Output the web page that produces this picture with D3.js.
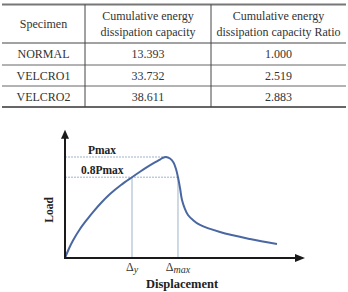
<!DOCTYPE html>
<html>
<head>
<meta charset="utf-8">
<script src="https://cdn.jsdelivr.net/npm/d3@7"></script>
<style>
	body { margin: 0; background: #fff; }
	svg { display: block; }
	text { font-family: "Liberation Serif", "Times New Roman", serif; }
</style>
</head>
<body>
<div id="chart"></div>
<script>
// table data
var headers = [["Specimen"], ["Cumulative energy", "dissipation capacity"], ["Cumulative energy", "dissipation capacity Ratio"]];
var specimens = ["NORMAL", "VELCRO1", "VELCRO2"];
var capacity = ["13.393", "33.732", "38.611"];
var ratio = ["1.000", "2.519", "2.883"];

// load-displacement curve (displacement 0-100, load as fraction of Pmax)
var disp = [0, 1.67, 3.33, 6.25, 9.17, 11.67, 15, 18.75, 23.33, 27.92, 31.25, 34.17, 37.08, 39.58, 40.83, 42.08,
	43.75, 45.21, 46.25, 47.08, 47.92, 48.75, 50, 51.25, 53.33, 56.25, 64.58, 77.08, 88.33];
var load = [0, 0.094, 0.173, 0.287, 0.381, 0.455, 0.545, 0.634, 0.723, 0.8, 0.854, 0.899, 0.941, 0.975, 0.993, 1.0,
	0.985, 0.946, 0.881, 0.8, 0.693, 0.574, 0.485, 0.426, 0.376, 0.327, 0.257, 0.188, 0.139];
var pmax = 1.0, p08 = 0.8;
var dispPeak = 42.08, dispY = 27.92, dispMax = 47.08;

var width = 348, height = 292;
var svg = d3.select("#chart").append("svg")
	.attr("width", width)
	.attr("height", height);

// ---- table ----
var colX = [2, 85, 211, 346];
var rowY = [4.5, 43, 65, 86, 107];
var tbl = svg.append("g").attr("font-size", 12).attr("fill", "#333");

tbl.append("line").attr("x1", colX[0]).attr("x2", colX[3]).attr("y1", rowY[0]).attr("y2", rowY[0])
	.attr("stroke", "#777").attr("stroke-width", 2);
tbl.append("line").attr("x1", colX[0]).attr("x2", colX[3]).attr("y1", rowY[1]).attr("y2", rowY[1])
	.attr("stroke", "#444").attr("stroke-width", 1);
[2, 3].forEach(function (i) {
	tbl.append("line").attr("x1", colX[0]).attr("x2", colX[3]).attr("y1", rowY[i]).attr("y2", rowY[i])
		.attr("stroke", "#666").attr("stroke-width", 1);
});
tbl.append("line").attr("x1", colX[0]).attr("x2", colX[3]).attr("y1", rowY[4]).attr("y2", rowY[4])
	.attr("stroke", "#333").attr("stroke-width", 1.6);
[1, 2].forEach(function (i) {
	tbl.append("line").attr("x1", colX[i]).attr("x2", colX[i]).attr("y1", rowY[0]).attr("y2", rowY[4])
		.attr("stroke", "#444").attr("stroke-width", 1);
});

headers.forEach(function (lines, c) {
	var cx = (colX[c] + colX[c + 1]) / 2;
	var cy = (rowY[0] + rowY[1]) / 2;
	lines.forEach(function (t, k) {
		tbl.append("text")
			.attr("x", cx)
			.attr("y", cy + (k - (lines.length - 1) / 2) * 16.5)
			.attr("dy", "0.35em")
			.attr("text-anchor", "middle")
			.text(t);
	});
});
specimens.forEach(function (s, r) {
	var cy = (rowY[r + 1] + rowY[r + 2]) / 2;
	[s, capacity[r], ratio[r]].forEach(function (t, c) {
		tbl.append("text")
			.attr("x", (colX[c] + colX[c + 1]) / 2)
			.attr("y", cy)
			.attr("dy", "0.35em")
			.attr("text-anchor", "middle")
			.text(t);
	});
});

// ---- load-displacement chart ----
var x = d3.scaleLinear().domain([0, 100]).range([65, 305]);
var y = d3.scaleLinear().domain([0, 1]).range([258, 157]);
var guide = "#9fb3c8";

var g = svg.append("g");

// guide lines
g.append("line").attr("x1", x(0)).attr("x2", x(dispPeak)).attr("y1", y(pmax)).attr("y2", y(pmax))
	.attr("stroke", guide).attr("stroke-width", 1).attr("stroke-dasharray", "2,1");
g.append("line").attr("x1", x(0)).attr("x2", x(dispMax)).attr("y1", y(p08)).attr("y2", y(p08))
	.attr("stroke", guide).attr("stroke-width", 1).attr("stroke-dasharray", "2,1");
[dispY, dispMax].forEach(function (d) {
	g.append("line").attr("x1", x(d)).attr("x2", x(d)).attr("y1", y(p08)).attr("y2", y(0))
		.attr("stroke", guide).attr("stroke-width", 1);
});

// curve
var pts = disp.map(function (d, i) { return [d, load[i]]; });
var line = d3.line()
	.curve(d3.curveCatmullRom.alpha(0.5))
	.x(function (d) { return x(d[0]); })
	.y(function (d) { return y(d[1]); });
g.append("path")
	.attr("d", line(pts))
	.attr("fill", "none")
	.attr("stroke", "#4a67a1")
	.attr("stroke-width", 2)
	.attr("stroke-linejoin", "round");

// axes with arrows
var axisCol = "#1a1a1a";
g.append("line").attr("x1", x(0)).attr("x2", x(0)).attr("y1", y(0) + 1).attr("y2", y(1.22))
	.attr("stroke", axisCol).attr("stroke-width", 2);
g.append("line").attr("x1", x(0) - 1).attr("x2", x(97)).attr("y1", y(0)).attr("y2", y(0))
	.attr("stroke", axisCol).attr("stroke-width", 2);
g.append("path")
	.attr("d", "M" + x(0) + "," + y(1.27) + "L" + (x(0) - 4) + "," + (y(1.27) + 9) + "L" + (x(0) + 4) + "," + (y(1.27) + 9) + "Z")
	.attr("fill", axisCol);
g.append("path")
	.attr("d", "M" + x(100) + "," + y(0) + "L" + (x(100) - 10) + "," + (y(0) - 4) + "L" + (x(100) - 10) + "," + (y(0) + 4) + "Z")
	.attr("fill", axisCol);

// labels
var lab = g.append("g").attr("font-weight", "bold").attr("fill", "#222");
lab.append("text").attr("x", 88).attr("y", y(pmax) - 3).attr("font-size", 11.5).text("Pmax");
lab.append("text").attr("x", 81).attr("y", y(p08) - 3).attr("font-size", 11.5).text("0.8Pmax");
lab.append("text").attr("x", 182).attr("y", 288).attr("text-anchor", "middle").attr("font-size", 12.5).text("Displacement");
lab.append("text").attr("transform", "translate(53,210) rotate(-90)").attr("text-anchor", "middle")
	.attr("font-size", 11.5).text("Load");

var dl = g.append("g").attr("fill", "#333");
[[dispY, "y"], [dispMax, "max"]].forEach(function (d) {
	var t = dl.append("text").attr("x", x(d[0])).attr("y", 271).attr("text-anchor", "middle").attr("font-size", 12);
	t.append("tspan").text("\u0394");
	t.append("tspan").attr("font-style", "italic").attr("font-size", 10).attr("dy", 2).text(d[1]);
});
</script>
</body>
</html>
